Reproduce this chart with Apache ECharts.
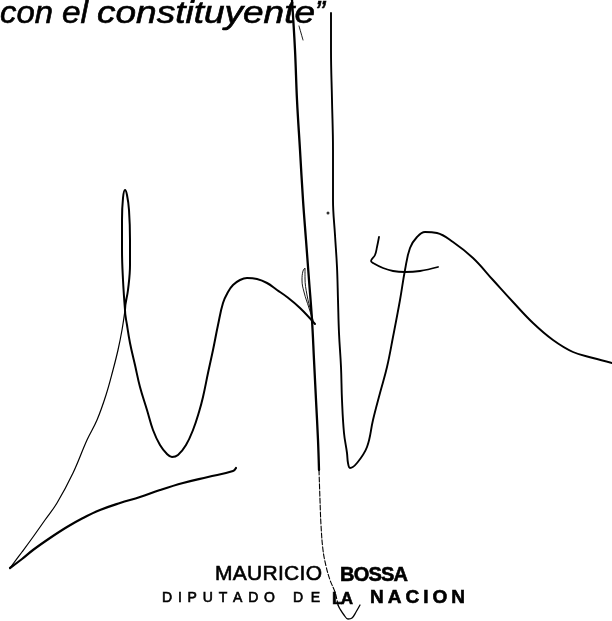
<!DOCTYPE html>
<html>
<head>
<meta charset="utf-8">
<script src="https://cdn.jsdelivr.net/npm/echarts@6/dist/echarts.min.js"></script>
<style>
html,body{margin:0;padding:0;background:#fff;}
#c{width:612px;height:621px;}
</style>
</head>
<body>
<div id="c"></div>
<script>
// Stroke paths (x, y in page units, y downward)
var strokeTipRise = [[10,568],[22,552],[33,537],[45,520],[57,503],[73,473],[87,440],[97,420],[106,395],[113,370],[118,350],[122,330],[125,310]];
var strokeLoopHump = [[125,310],[123,280],[122,250],[122,220],[123,198],[125,190],[127,195],[129,210],[130,240],[130,265],[128,290],[125,310],[127,325],[130,343],[135,365],[140,387],[147,410],[153,430],[160,445],[167,454],[172,457],[178,455],[186,445],[193,430],[199,412],[203,397],[208,373],[213,350],[218,325],[223,303],[228,292],[233,285],[240,280],[247,278],[257,279],[267,283],[277,290],[287,297],[300,308],[315,324]];
var strokeUnderline = [[10,568],[22,559],[33,550],[50,538],[67,527],[83,518],[100,510],[120,503],[140,497],[160,490],[183,483],[208,477],[233,471],[236,468]];
var strokeLeftVertical = [[292,0],[295,50],[297,100],[300,150],[303,200],[306,240],[309,280],[312,320],[314,360],[316,400],[318,440],[319,470]];
var strokeLeftVerticalLow = [[319,470],[320,500],[321,525],[323,550],[326,566],[330,580],[335,592],[337,600],[338,605]];
var strokeBottomV = [[338,605],[340,609],[344,615],[348,619],[352,618],[356,612],[360,605]];
var strokeRightVertical = [[331,13],[331,50],[332,100],[333,150],[333,200],[335,235],[337,267],[338,300],[339,333],[341,367],[342,400],[344,433],[347,453],[348,463],[350,468],[357,463],[367,447],[373,420],[380,393],[387,367],[393,337],[400,300],[405,270],[410,248],[417,237],[425,232],[437,233],[453,242],[473,258],[493,280],[513,302],[533,323],[553,340],[573,352],[593,358],[612,363]];
var strokeHook = [[379,237],[377,247],[375,255],[371,261],[373,263],[383,268],[393,271],[405,272],[420,271],[438,267]];
var strokeSmallLoop = [[313,321],[309,308],[304,292],[302,280],[303,271],[305,268],[305,278],[307,295],[311,312],[313,320]];
var strokeQuoteMark = [[299,26],[303,40]];
var dotPoint = [[328,213]];

// Texts: [text, left x, right x, baseline y, style, weight, size, fit mode]
var textItems = [
  ['con', 0, 53, 26, 'italic', 'normal', 31, 'stretch'],
  ['el', 62, 88, 26, 'italic', 'normal', 31, 'stretch'],
  ['constituyente', 97, 315, 26, 'italic', 'normal', 31, 'stretch'],
  ['\u201D', 315, 325, 26, 'italic', 'normal', 31, 'stretch'],
  ['MAURICIO', 215, 322, 582, 'normal', 'normal', 21, 'space'],
  ['BOSSA', 340, 408, 583, 'normal', 'bold', 20, 'space'],
  ['DIPUTADO', 162, 275, 603, 'normal', 'normal', 14, 'space'],
  ['DE', 293, 320, 603, 'normal', 'normal', 14, 'space'],
  ['LA', 332, 353, 605, 'normal', 'bold', 17, 'space'],
  ['NACION', 370, 465, 605, 'normal', 'bold', 19, 'space']
];
var FAMILY = '"Liberation Sans", Arial, sans-serif';

var measureCtx = document.createElement('canvas').getContext('2d');
function textEl(str, x, baseline, fStyle, fWeight, size, scaleX) {
  return {
    type: 'text',
    x: x,
    y: baseline - 0.36 * size,
    scaleX: scaleX || 1,
    silent: true,
    style: {
      text: str, fill: '#000', stroke: '#000', lineWidth: 0.6,
      fontSize: size, fontFamily: FAMILY, fontStyle: fStyle, fontWeight: fWeight,
      align: 'left', verticalAlign: 'middle'
    }
  };
}
function placeText(str, x0, x1, baseline, fStyle, fWeight, size, mode) {
  measureCtx.font = fStyle + ' ' + fWeight + ' ' + size + 'px ' + FAMILY;
  if (mode === 'stretch') {
    var w = measureCtx.measureText(str).width;
    return [textEl(str, x0, baseline, fStyle, fWeight, size, (x1 - x0) / w)];
  }
  var chars = Array.from(str);
  var widths = chars.map(function (ch) { return measureCtx.measureText(ch).width; });
  var total = widths.reduce(function (a, b) { return a + b; }, 0);
  var gap = chars.length > 1 ? (x1 - x0 - total) / (chars.length - 1) : 0;
  var els = [];
  var x = x0;
  chars.forEach(function (ch, i) {
    els.push(textEl(ch, x, baseline, fStyle, fWeight, size, 1));
    x += widths[i] + gap;
  });
  return els;
}

var graphics = [];
textItems.forEach(function (t) { graphics = graphics.concat(placeText(t[0], t[1], t[2], t[3], t[4], t[5], t[6], t[7])); });

function lineSeries(data, width, extra) {
  var s = {
    type: 'line',
    data: data,
    showSymbol: false,
    smooth: 0.4,
    silent: true,
    animation: false,
    lineStyle: { color: '#000', width: width, cap: 'round', join: 'round' }
  };
  if (extra) { for (var k in extra) s.lineStyle[k] = extra[k]; }
  return s;
}

var chart = echarts.init(document.getElementById('c'), null, { renderer: 'canvas' });
chart.setOption({
  backgroundColor: '#fff',
  animation: false,
  grid: { left: 0, right: 0, top: 0, bottom: 0 },
  xAxis: { type: 'value', min: 0, max: 612, show: false },
  yAxis: { type: 'value', min: 0, max: 621, inverse: true, show: false },
  series: [
    lineSeries(strokeTipRise, 1.2),
    lineSeries(strokeLoopHump, 2),
    lineSeries(strokeUnderline, 2.2),
    lineSeries(strokeLeftVertical, 2.3),
    lineSeries(strokeLeftVerticalLow, 1.1, { type: [5, 2] }),
    lineSeries(strokeBottomV, 1.3),
    lineSeries(strokeRightVertical, 1.9),
    lineSeries(strokeHook, 1.8),
    lineSeries(strokeSmallLoop, 0.9),
    lineSeries(strokeQuoteMark, 0.9),
    { type: 'scatter', data: dotPoint, symbolSize: 3, silent: true, itemStyle: { color: '#000' } }
  ],
  graphic: graphics
});
</script>
</body>
</html>
